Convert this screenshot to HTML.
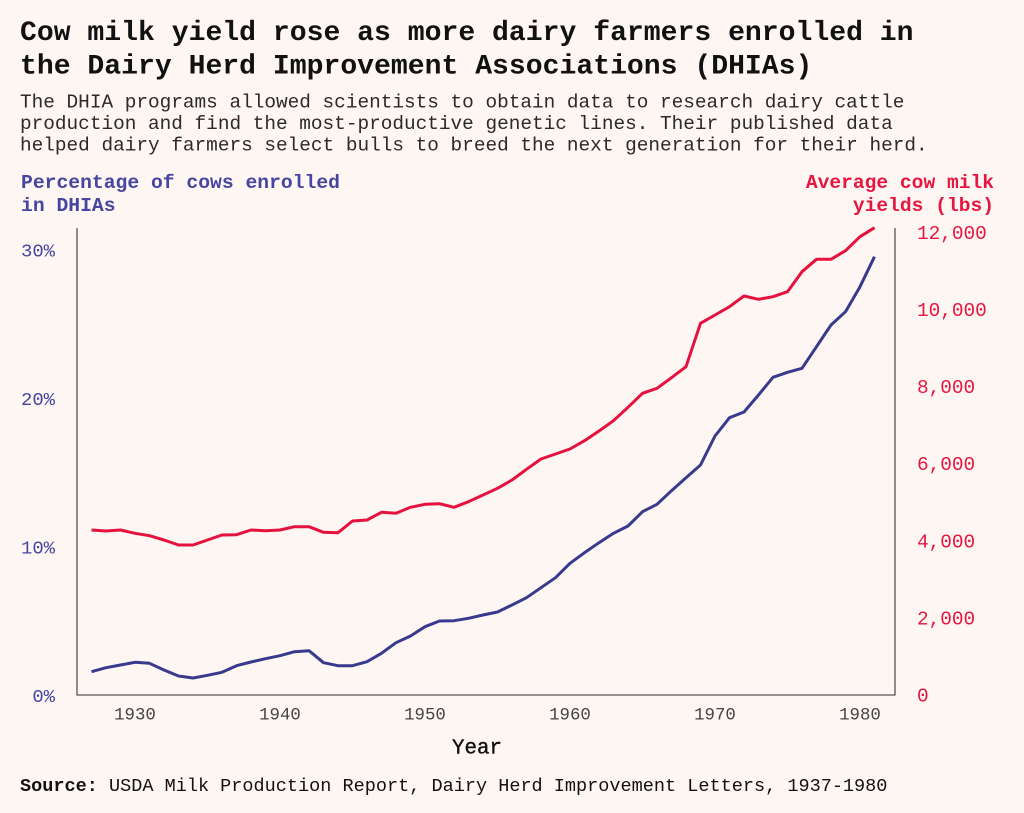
<!DOCTYPE html>
<html><head><meta charset="utf-8"><style>
html,body{margin:0;padding:0;background:#fdf6f3;}
svg{display:block;}
text{font-family:"Liberation Mono",monospace;}
</style></head><body>
<svg width="1024" height="813" viewBox="0 0 1024 813" xmlns="http://www.w3.org/2000/svg">
<rect width="1024" height="813" fill="#fdf6f3"/>
<text x="20" y="40" font-size="28.1" font-weight="bold" fill="#111">Cow milk yield rose as more dairy farmers enrolled in</text>
<text x="20" y="73.5" font-size="28.1" font-weight="bold" fill="#111">the Dairy Herd Improvement Associations (DHIAs)</text>
<text x="20" y="107.5" font-size="19.4" fill="#2a2a2a">The DHIA programs allowed scientists to obtain data to research dairy cattle</text>
<text x="20" y="129" font-size="19.4" fill="#2a2a2a">production and find the most-productive genetic lines. Their published data</text>
<text x="20" y="150.5" font-size="19.4" fill="#2a2a2a">helped dairy farmers select bulls to breed the next generation for their herd.</text>
<text x="21" y="188" font-size="19.7" font-weight="bold" fill="#4646a0">Percentage of cows enrolled</text>
<text x="21" y="211" font-size="19.7" font-weight="bold" fill="#4646a0">in DHIAs</text>
<text x="994" y="188" font-size="19.6" font-weight="bold" fill="#e5163f" text-anchor="end">Average cow milk</text>
<text x="994" y="211" font-size="19.6" font-weight="bold" fill="#e5163f" text-anchor="end">yields (lbs)</text>
<g stroke="#555" stroke-width="1.3" fill="none">
<line x1="77" y1="228" x2="77" y2="695.5"/>
<line x1="895" y1="228" x2="895" y2="695.5"/>
<line x1="76.5" y1="695" x2="895.5" y2="695"/>
</g>
<g font-size="18.9" fill="#4646a0" text-anchor="end">
<text x="55" y="256.5">30%</text>
<text x="55" y="405">20%</text>
<text x="55" y="553.5">10%</text>
<text x="55" y="702">0%</text>
</g>
<g font-size="19.4" fill="#e5163f">
<text x="917" y="239">12,000</text>
<text x="917" y="316">10,000</text>
<text x="917" y="393">8,000</text>
<text x="917" y="470">6,000</text>
<text x="917" y="547.5">4,000</text>
<text x="917" y="624.5">2,000</text>
<text x="917" y="701.5">0</text>
</g>
<g font-size="17.4" fill="#444" text-anchor="middle">
<text x="135" y="719.5">1930</text>
<text x="280" y="719.5">1940</text>
<text x="425" y="719.5">1950</text>
<text x="570" y="719.5">1960</text>
<text x="715" y="719.5">1970</text>
<text x="860" y="719.5">1980</text>
</g>
<text x="477" y="753.5" font-size="20.8" fill="#111" stroke="#111" stroke-width="0.4" text-anchor="middle">Year</text>
<text x="20" y="791" font-size="18.55" fill="#111"><tspan font-weight="bold">Source:</tspan> USDA Milk Production Report, Dairy Herd Improvement Letters, 1937-1980</text>
<polyline fill="none" stroke="#e5123e" stroke-width="3" stroke-linejoin="round" stroke-linecap="butt" points="91.5,530 106,531 120.5,530 135,533.3 149.5,535.7 164,540 178.5,545 193,545 207.5,540 222,535 236.5,534.7 251,530 265.5,530.7 280,530 294.5,526.7 309,526.7 323.5,532.3 338,532.7 352.5,521 367,520 381.5,512.3 396,513.3 410.5,507.3 425,504.3 439.5,503.7 454,507.3 468.5,501.7 483,495 497.5,488.3 512,480 526.5,469.3 541,459 555.5,454 570,449 584.5,440.7 599,431 613.5,420.7 628,407.3 642.5,393.3 657,388.3 671.5,377.7 686,366.7 700.5,323.3 715,315 729.5,306.7 744,296 758.5,299.3 773,296.7 787.5,291.7 802,271.7 816.5,259.3 831,259.3 845.5,250.7 860,236.7 874.5,227.7"/>
<polyline fill="none" stroke="#383a8e" stroke-width="3" stroke-linejoin="round" stroke-linecap="butt" points="91.5,671.7 106,667.7 120.5,665 135,662.3 149.5,663.3 164,670 178.5,676 193,678 207.5,675.3 222,672.3 236.5,665.7 251,662 265.5,658.7 280,655.7 294.5,651.7 309,650.7 323.5,662.7 338,665.7 352.5,665.7 367,661.7 381.5,653.3 396,642.7 410.5,636 425,626.7 439.5,621 454,620.7 468.5,618.3 483,615 497.5,612 512,605 526.5,597.7 541,587.7 555.5,577.7 570,563.3 584.5,552.7 599,542.7 613.5,533.3 628,526 642.5,511.7 657,504.3 671.5,490.7 686,477.7 700.5,465 715,436 729.5,417.7 744,412 758.5,395 773,377.3 787.5,372.3 802,368.3 816.5,346.7 831,325 845.5,311.7 860,286.7 874.5,256.7"/>
</svg>
</body></html>
